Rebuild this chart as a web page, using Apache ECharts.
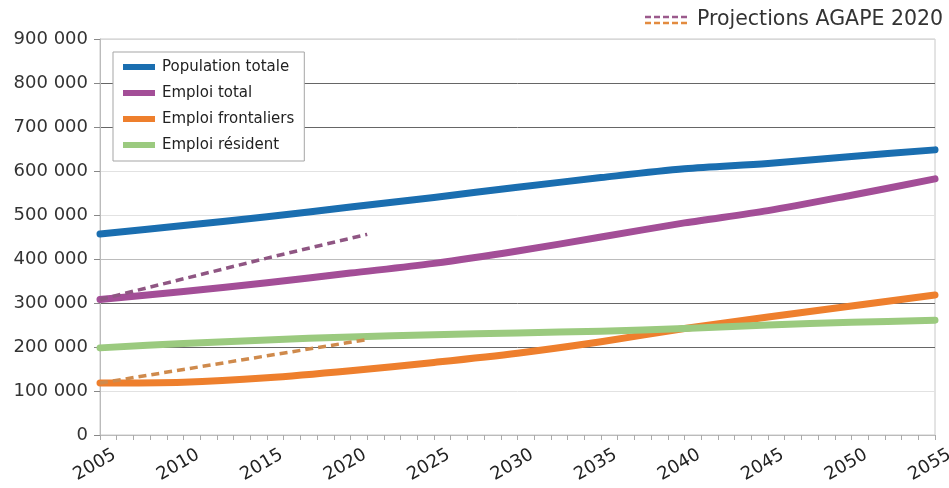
<!DOCTYPE html>
<html lang="fr" style="height: 100%">
<head>
  <meta charset="utf-8">
</head>
<body style="height: 100%; margin: 0; background: #fff">
  <div id="container" style="width: 949px; height: 488px"></div>

  <script type="text/javascript" src="https://cdn.jsdelivr.net/npm/echarts@6/dist/echarts.min.js"></script>

  <script type="text/javascript">
    var years = [2005, 2010, 2015, 2020, 2025, 2030, 2035, 2040, 2045, 2050, 2055];
    var populationTotale = [457000, 476000, 496000, 518000, 540000, 563000, 585000, 605000, 617000, 633000, 648000];
    var emploiTotal = [308000, 326000, 346000, 368000, 390000, 418000, 450000, 482000, 510000, 545000, 582000];
    var emploiFrontaliers = [118000, 120000, 130000, 146000, 165000, 186000, 212000, 242000, 268000, 293000, 318000];
    var emploiResident = [198000, 208000, 216000, 223000, 228000, 232000, 236000, 242000, 250000, 256000, 261000];

    // projections AGAPE 2020 (pointillés)
    var projYears = [2005, 2010, 2015, 2021];
    var projEmploiTotal = [308000, 355000, 402000, 456000];
    var projFrontaliers = [118000, 149000, 180000, 217000];

    var yTicks = ['0', '100 000', '200 000', '300 000', '400 000', '500 000', '600 000', '700 000', '800 000', '900 000'];

    function pairs(xs, ys) {
      return xs.map(function (x, i) { return [x, ys[i]]; });
    }

    var font = 'DejaVu Sans';
    var dom = document.getElementById('container');
    var myChart = echarts.init(dom, null, { renderer: 'canvas' });

    function mainLine(name, data, color) {
      return {
        name: name,
        type: 'line',
        data: pairs(years, data),
        smooth: 0.3,
        showSymbol: false,
        color: color,
        lineStyle: { width: 7, color: color, cap: 'round', join: 'round' },
        z: 3
      };
    }

    function dashLine(name, data, color) {
      return {
        name: name,
        type: 'line',
        data: pairs(projYears, data),
        showSymbol: false,
        color: color,
        lineStyle: { width: 3.5, color: color, type: [8, 5] },
        z: 4
      };
    }

    var option = {
      animation: false,
      grid: {
        left: 100, right: 14, top: 39, bottom: 53,
        outerBoundsMode: 'none',
        containLabel: false,
        show: true, borderColor: '#c8c8c8', borderWidth: 1
      },
      legend: {
        data: ['Population totale', 'Emploi total', 'Emploi frontaliers', 'Emploi résident'],
        orient: 'vertical',
        left: 113, top: 52,
        backgroundColor: '#fff',
        borderColor: '#a5a5a5',
        borderWidth: 1,
        padding: [7, 10, 8, 10],
        itemWidth: 32, itemHeight: 6,
        itemGap: 10,
        icon: 'rect',
        textStyle: { fontFamily: font, fontSize: 15, lineHeight: 16, color: '#222', padding: [0, 0, 0, 2] }
      },
      xAxis: {
        type: 'value',
        min: 2005, max: 2055, interval: 5,
        axisLine: { lineStyle: { color: '#bbb' } },
        axisTick: { show: true, length: 5, lineStyle: { color: '#aaa' } },
        minorTick: { show: true, splitNumber: 5, length: 5, lineStyle: { color: '#aaa' } },
        splitLine: { show: false },
        axisLabel: {
          rotate: 30, margin: 27,
          align: 'center', verticalAlign: 'middle',
          padding: [0, 12, 0, 0],
          fontFamily: font, fontSize: 18, color: '#222',
          formatter: function (v) { return String(v); }
        }
      },
      yAxis: {
        type: 'value',
        min: 0, max: 900000, interval: 100000,
        axisLine: { show: true, lineStyle: { color: '#bbb' } },
        axisTick: { show: true, length: 6, lineStyle: { color: '#888' } },
        splitLine: {
          lineStyle: {
            width: 1,
            color: ['#ddd', '#e2e2e2', '#666', '#666', '#bcbcbc', '#e2e2e2', '#e2e2e2', '#666', '#666', '#d8d8d8']
          }
        },
        axisLabel: {
          margin: 12,
          fontFamily: font, fontSize: 18, color: '#333',
          formatter: function (v) { return yTicks[Math.round(v / 100000)]; }
        }
      },
      graphic: [
        { type: 'line', shape: { x1: 645, y1: 17, x2: 690, y2: 17 }, style: { stroke: '#9b5a8c', lineWidth: 2.5, lineDash: [6, 3] } },
        { type: 'line', shape: { x1: 645, y1: 23, x2: 690, y2: 23 }, style: { stroke: '#e38b3f', lineWidth: 2.5, lineDash: [6, 3] } },
        { type: 'text', left: 697, top: 9, style: { text: 'Projections AGAPE 2020', font: '20.5px "DejaVu Sans"', fill: '#333' } }
      ],
      series: [
        mainLine('Population totale', populationTotale, '#1a6eb0'),
        mainLine('Emploi total', emploiTotal, '#a34e97'),
        mainLine('Emploi frontaliers', emploiFrontaliers, '#ee7f2d'),
        mainLine('Emploi résident', emploiResident, '#9bca7f'),
        dashLine('Proj. emploi total', projEmploiTotal, '#8f5683'),
        dashLine('Proj. frontaliers', projFrontaliers, '#cf8a4c')
      ]
    };

    myChart.setOption(option);
    window.addEventListener('resize', myChart.resize);
  </script>
</body>
</html>
